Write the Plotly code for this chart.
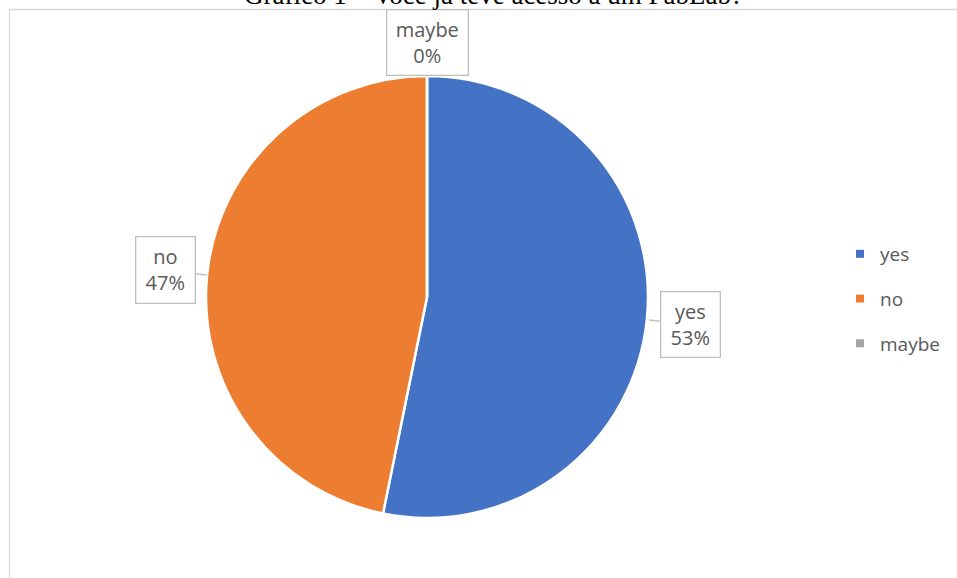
import plotly.graph_objects as go

labels = ["yes", "no", "maybe"]
values = [25, 22, 0]
colors = ["#4472C4", "#ED7D31", "#A5A5A5"]
title_text = "Gráfico 1 – Você já teve acesso a um FabLab?"

W, H = 957, 578
def px(x):
    return x / W
def py(y):
    return 1 - y / H

total = sum(values)
pcts = [round(v / total * 100) for v in values]

fig = go.Figure()
fig.add_trace(go.Pie(
    labels=labels, values=values, sort=False, direction="clockwise", rotation=0,
    marker=dict(colors=colors, line=dict(color="white", width=2.5)),
    textinfo="none", showlegend=False, hoverinfo="label+percent",
    domain=dict(x=[px(206), px(648)], y=[py(518), py(76)]),
))

for lab, col in zip(labels, colors):
    fig.add_trace(go.Scatter(
        x=[None], y=[None], mode="markers", name=lab, legendgroup=lab,
        marker=dict(symbol="square", size=8, color=col),
    ))

# label callouts: (box center px, tip px, box size)
callouts = {
    "yes": dict(tip=(649, 320), center=(690, 324), w=58, h=64),
    "no": dict(tip=(207, 275), center=(165, 270), w=58, h=65),
    "maybe": dict(tip=(427, 77), center=(427, 43), w=80, h=64),
}
for lab, p in zip(labels, pcts):
    c = callouts[lab]
    fig.add_annotation(
        x=px(c["tip"][0]), y=py(c["tip"][1]), xref="paper", yref="paper",
        text=f"{lab}<br>{p}%", showarrow=True, arrowhead=0, arrowwidth=1.3,
        arrowcolor="#BFBFBF", ax=c["center"][0] - c["tip"][0], ay=c["center"][1] - c["tip"][1],
        width=c["w"], height=c["h"], bordercolor="#BFBFBF", borderwidth=1.3,
        bgcolor="white", font=dict(family="Open Sans", size=20, color="#595959"),
        align="center", valign="middle", borderpad=0,
    )

fig.add_annotation(
    x=px(494), y=py(-5), xref="paper", yref="paper", xanchor="center", yanchor="middle",
    text=title_text, showarrow=False,
    font=dict(family="Liberation Serif", size=27, color="black"),
)

fig.add_shape(type="rect", xref="paper", yref="paper",
              x0=px(9.5), x1=1.02, y0=-0.02, y1=py(9.5),
              line=dict(color="#D9D9D9", width=1.3), fillcolor="rgba(0,0,0,0)", layer="below")

fig.update_layout(
    width=W, height=H, margin=dict(l=0, r=0, t=0, b=0),
    paper_bgcolor="white", plot_bgcolor="white",
    xaxis=dict(visible=False), yaxis=dict(visible=False),
    legend=dict(x=px(840), y=py(235), xanchor="left", yanchor="top",
                traceorder="grouped", tracegroupgap=17,
                font=dict(family="Open Sans", size=19, color="#595959"),
                bgcolor="rgba(0,0,0,0)"),
)

fig.write_html("out.html")
